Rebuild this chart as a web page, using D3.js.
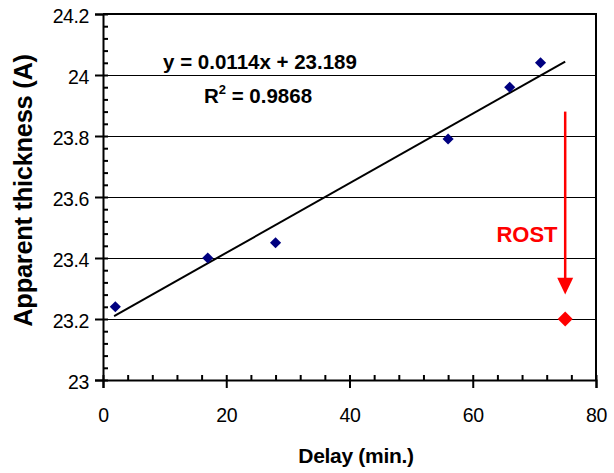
<!DOCTYPE html>
<html>
<head>
    <title>Apparent thickness vs delay</title>
    <script src="https://d3js.org/d3.v7.min.js"></script>
</head>
<body style="margin:0;background:#fff">

	<style>
		#chart { display:block; }
		text { font-family: "Liberation Sans", Arial, sans-serif; }
	</style>

	<svg id="chart"></svg>

    <script>
        // measured points (delay in minutes, thickness in A)
        const delays = [2, 17, 28, 56, 66, 71];
        const thickness = [23.24, 23.40, 23.45, 23.79, 23.96, 24.04];
        const rostPoint = [75, 23.2];
        const fitSlope = 0.0114;
        const fitIntercept = 23.189;
        const fitRange = [1.8, 75];
        const xTicks = [0, 20, 40, 60, 80];
        const yTicks = [23, 23.2, 23.4, 23.6, 23.8, 24, 24.2];
        const eqText = 'y = 0.0114x + 23.189';
        const r2Text = '0.9868';

        const width = 614, height = 473;
        const plotLeft = 103, plotRight = 596, plotTop = 14, plotBottom = 380;

        const svg = d3.select('#chart')
            .attr('width', width)
            .attr('height', height);

        const x = d3.scaleLinear().domain([0, 80]).range([plotLeft, plotRight]);
        const y = d3.scaleLinear().domain([23, 24.2]).range([plotBottom, plotTop]);

        // gridlines
        svg.append('g')
            .selectAll('line')
            .data(yTicks.slice(1, -1))
            .join('line')
            .attr('x1', plotLeft).attr('x2', plotRight)
            .attr('y1', d => y(d)).attr('y2', d => y(d))
            .attr('stroke', 'black')
            .attr('stroke-width', 1)
            .attr('shape-rendering', 'crispEdges');

        // minor ticks (inside)
        const minorX = d3.range(0, 80.001, 4);
        const minorY = d3.range(23, 24.2001, 0.04);

        svg.append('g')
            .attr('transform', `translate(0,${plotBottom})`)
            .call(d3.axisBottom(x).tickValues(minorX).tickSize(-5).tickFormat(''))
            .call(g => g.select('.domain').remove());

        svg.append('g')
            .attr('transform', `translate(${plotLeft},0)`)
            .call(d3.axisLeft(y).tickValues(minorY).tickSize(-5).tickFormat(''))
            .call(g => g.select('.domain').remove());

        // major axes
        const xAxis = svg.append('g')
            .attr('transform', `translate(0,${plotBottom})`)
            .call(d3.axisBottom(x).tickValues(xTicks).tickSize(8).tickPadding(20).tickFormat(d3.format('d')));

        const yAxis = svg.append('g')
            .attr('transform', `translate(${plotLeft},0)`)
            .call(d3.axisLeft(y).tickValues(yTicks).tickSize(8).tickPadding(6).tickFormat(d => String(+d.toFixed(1))));

        svg.selectAll('.tick line').attr('stroke', 'black').attr('stroke-width', 2);
        [xAxis, yAxis].forEach(a => {
            a.select('.domain').attr('stroke', 'black').attr('stroke-width', 2);
            a.selectAll('text')
                .attr('font-size', '19.5px')
                .attr('letter-spacing', '-0.4px')
                .attr('font-family', '"Liberation Sans", Arial, sans-serif')
                .attr('fill', 'black');
        });
        yAxis.selectAll('text').attr('dy', '0.45em');

        // top and right border of the plot
        svg.append('path')
            .attr('d', `M${plotLeft},${plotTop}H${plotRight}V${plotBottom}`)
            .attr('fill', 'none')
            .attr('stroke', 'black')
            .attr('stroke-width', 2);

        // trendline
        const line = d3.line().x(d => x(d)).y(d => y(fitSlope * d + fitIntercept));
        svg.append('path')
            .attr('d', line(fitRange))
            .attr('fill', 'none')
            .attr('stroke', 'black')
            .attr('stroke-width', 2);

        // data points (square turned 45deg = excel diamond)
        const diamond = d3.symbol().type(d3.symbolSquare);
        svg.append('g')
            .selectAll('path')
            .data(delays.map((d, i) => [d, thickness[i]]))
            .join('path')
            .attr('d', diamond.size(62)())
            .attr('transform', d => `translate(${x(d[0])},${y(d[1])}) rotate(45)`)
            .attr('fill', '#000080');

        svg.append('path')
            .attr('d', diamond.size(112)())
            .attr('transform', `translate(${x(rostPoint[0])},${y(rostPoint[1])}) rotate(45)`)
            .attr('fill', '#ff0000');

        // arrow to ROST point
        const ax = x(rostPoint[0]);
        svg.append('line')
            .attr('x1', ax).attr('x2', ax)
            .attr('y1', y(23.88)).attr('y2', y(23.31))
            .attr('stroke', '#ff0000')
            .attr('stroke-width', 2.5);
        svg.append('path')
            .attr('d', `M${ax - 8},${y(23.335)}L${ax + 8},${y(23.335)}L${ax},${y(23.28)}Z`)
            .attr('fill', '#ff0000');

        svg.append('text')
            .attr('x', 527)
            .attr('y', 242)
            .attr('text-anchor', 'middle')
            .attr('font-size', '22px')
            .attr('font-weight', 'bold')
            .attr('fill', '#ff0000')
            .text('ROST');

        // equation
        svg.append('text')
            .attr('x', 260)
            .attr('y', 69)
            .attr('text-anchor', 'middle')
            .attr('font-size', '20.5px')
            .attr('font-weight', 'bold')
            .text(eqText);

        const r2 = svg.append('text')
            .attr('x', 258)
            .attr('y', 103)
            .attr('text-anchor', 'middle')
            .attr('font-size', '20.5px')
            .attr('font-weight', 'bold');
        r2.append('tspan').text('R');
        r2.append('tspan').attr('font-size', '13px').attr('dy', '-9').text('2');
        r2.append('tspan').attr('dy', '9').text(' = ' + r2Text);

        // axis titles
        svg.append('text')
            .attr('x', 356)
            .attr('y', 463)
            .attr('text-anchor', 'middle')
            .attr('font-size', '21px')
            .attr('font-weight', 'bold')
            .attr('letter-spacing', '-0.3px')
            .text('Delay (min.)');

        svg.append('text')
            .attr('transform', `translate(32,190.5) rotate(-90)`)
            .attr('text-anchor', 'middle')
            .attr('font-size', '25.5px')
            .attr('font-weight', 'bold')
            .attr('letter-spacing', '-0.3px')
            .text('Apparent thickness (A)');
    </script>
</body>
</html>
